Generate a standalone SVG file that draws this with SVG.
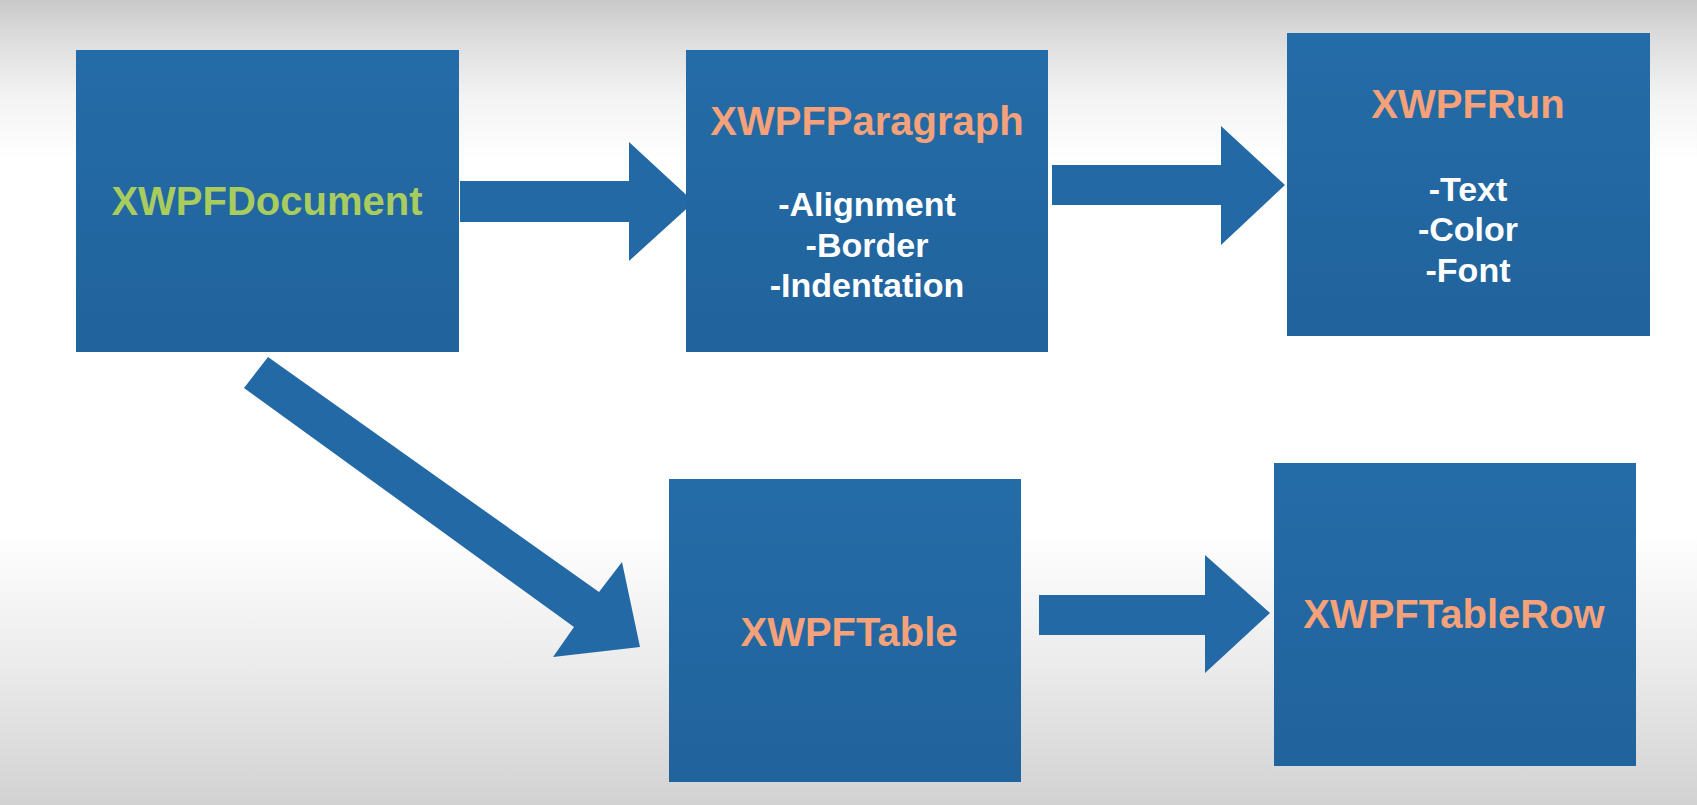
<svg xmlns="http://www.w3.org/2000/svg" width="1697" height="805" viewBox="0 0 1697 805">
  <defs>
    <linearGradient id="bg" x1="0" y1="0" x2="0" y2="1">
      <stop offset="0" stop-color="#c9c9c9"/>
      <stop offset="0.04" stop-color="#dadada"/>
      <stop offset="0.12" stop-color="#f3f3f3"/>
      <stop offset="0.2" stop-color="#ffffff"/>
      <stop offset="0.66" stop-color="#ffffff"/>
      <stop offset="0.82" stop-color="#ececec"/>
      <stop offset="1" stop-color="#d2d2d2"/>
    </linearGradient>
    <linearGradient id="blue" x1="0" y1="0" x2="0" y2="1">
      <stop offset="0" stop-color="#246ca8"/>
      <stop offset="1" stop-color="#21639c"/>
    </linearGradient>
  </defs>
  <style>
    .box { fill: url(#blue); }
    .arrow { fill: #2369a5; }
    .title { font-family: "Liberation Sans", Arial, sans-serif; font-weight: bold; font-size: 40px; text-anchor: middle; }
    .orange { fill: #f5a17a; }
    .green { fill: #a9cc5e; }
    .item { font-family: "Liberation Sans", Arial, sans-serif; font-weight: bold; font-size: 34px; fill: #ffffff; text-anchor: middle; }
  </style>
  <rect x="0" y="0" width="1697" height="805" fill="url(#bg)"/>

  <g id="connectors">
    <polygon class="arrow" points="460,181 629,181 629,142 694,202 629,261 629,222 460,222"/>
    <polygon class="arrow" points="1052,165 1221,165 1221,126 1285,185 1221,245 1221,205 1052,205"/>
    <polygon class="arrow" points="268,357 599,592 622,562 640,647 553,657 574,627 244,388"/>
    <polygon class="arrow" points="1039,595 1205,595 1205,555 1270,613 1205,673 1205,635 1039,635"/>
  </g>

  <g id="node-document">
    <rect class="box" x="76" y="50" width="383" height="302"/>
    <text class="title green" x="267" y="215">XWPFDocument</text>
  </g>

  <g id="node-paragraph">
    <rect class="box" x="686" y="50" width="362" height="302"/>
    <text class="title orange" x="867" y="135">XWPFParagraph</text>
    <text class="item" x="867" y="216">-Alignment</text>
    <text class="item" x="867" y="257">-Border</text>
    <text class="item" x="867" y="297">-Indentation</text>
  </g>

  <g id="node-run">
    <rect class="box" x="1287" y="33" width="363" height="303"/>
    <text class="title orange" x="1468" y="118">XWPFRun</text>
    <text class="item" x="1468" y="201">-Text</text>
    <text class="item" x="1468" y="241">-Color</text>
    <text class="item" x="1468" y="282">-Font</text>
  </g>

  <g id="node-table">
    <rect class="box" x="669" y="479" width="352" height="303"/>
    <text class="title orange" x="849" y="646">XWPFTable</text>
  </g>

  <g id="node-tablerow">
    <rect class="box" x="1274" y="463" width="362" height="303"/>
    <text class="title orange" x="1454" y="628">XWPFTableRow</text>
  </g>
</svg>
